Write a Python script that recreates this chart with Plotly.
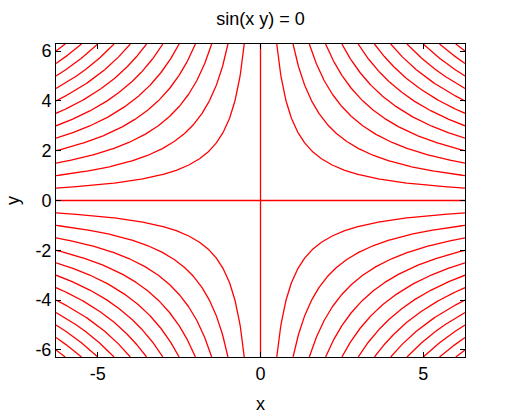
import numpy as np
import plotly.graph_objects as go

# implicit curve sin(x*y) = 0  ->  x*y = k*pi
k_values = [1, 2, 3, 4, 5, 6, 7, 8, 9, 10, 11, 12]
x_range = [-2 * np.pi, 2 * np.pi]
y_range = [-2 * np.pi, 2 * np.pi]
x_ticks = [-5, 0, 5]
x_labels = ["-5", "0", "5"]
y_ticks = [-6, -4, -2, 0, 2, 4, 6]
y_labels = ["-6", "-4", "-2", "0", "2", "4", "6"]

xs, ys = [], []
lim = 2 * np.pi
for k in k_values:
    c = k * np.pi
    xmin = c / lim
    xp = np.linspace(xmin, lim, 300)
    for sx in (1, -1):
        for sy in (1, -1):
            xs.extend(list(sx * xp) + [None])
            ys.extend(list(sy * c / xp) + [None])
# axes lines x=0 and y=0 (also solutions)
xs.extend([0, 0, None, -lim, lim, None])
ys.extend([-lim, lim, None, 0, 0, None])

fig = go.Figure()
fig.add_trace(go.Scatter(x=xs, y=ys, mode="lines",
                         line=dict(color="#ff0000", width=1.3),
                         hoverinfo="skip", showlegend=False))

FONT = "Liberation Sans, Arial"
axis_common = dict(showgrid=False, zeroline=False, showline=True, linecolor="black",
                   linewidth=1, mirror="ticks", ticks="inside", ticklen=5, automargin=False,
                   tickcolor="black", tickfont=dict(family=FONT, size=18, color="black"))
fig.update_layout(
    width=517, height=417,
    margin=dict(l=56, r=52, t=44, b=60),
    paper_bgcolor="white", plot_bgcolor="white",
    title=dict(text="sin(x y) = 0", x=0.504, xanchor="center", xref="container",
               y=0.955, yanchor="middle", yref="container", automargin=False,
               font=dict(family=FONT, size=18, color="black")),
    xaxis=dict(range=x_range, tickvals=x_ticks, ticktext=x_labels,
               title=dict(text="x", standoff=14, font=dict(family=FONT, size=18, color="black")),
               **axis_common),
    yaxis=dict(range=y_range, tickvals=y_ticks, ticktext=y_labels,
               title=dict(text="y", standoff=11, font=dict(family=FONT, size=18, color="black")),
               **axis_common),
)
fig.write_html("out.html", config={"displayModeBar": False},
               post_script="document.body.style.margin='0px';")
